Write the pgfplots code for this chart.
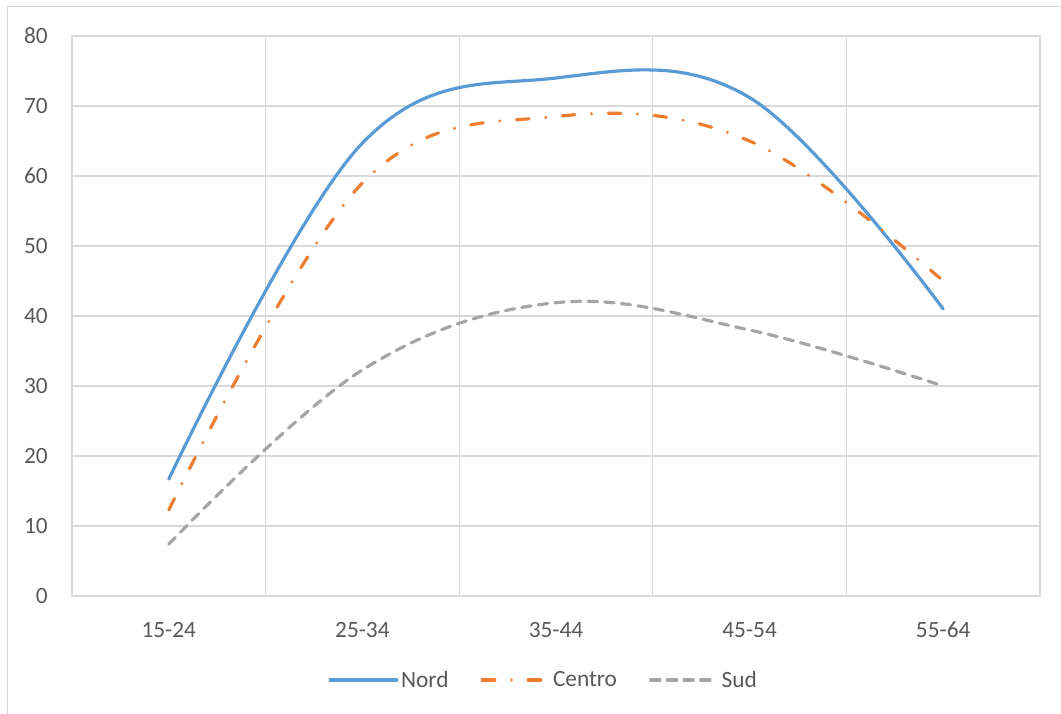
\documentclass[border=0pt]{standalone}
\usepackage{pgfplots}
\pgfplotsset{compat=1.18}
\usepackage{fontspec}
\setmainfont{Carlito}
\definecolor{nord}{HTML}{5B9BD5}
\definecolor{centro}{HTML}{ED7D31}
\definecolor{sud}{HTML}{A5A5A5}
\definecolor{gridc}{HTML}{D9D9D9}
\definecolor{txt}{HTML}{595959}
\begin{document}
\begin{tikzpicture}
\useasboundingbox (-54pt,-88.5pt) rectangle (741.75pt,447pt);
\draw[gridc, line width=0.75pt] (-48.4pt,-88.5pt) -- (-48.4pt,441.75pt) -- (741.75pt,441.75pt);
\begin{axis}[
  at={(0,0)}, anchor=south west,
  scale only axis, width=726pt, height=420pt,
  xmin=0.5, xmax=5.5, ymin=0, ymax=80,
  xtick={1,2,3,4,5},
  xticklabels={15-24,25-34,35-44,45-54,55-64},
  minor xtick={0.5,1.5,2.5,3.5,4.5,5.5},
  ytick={0,10,20,30,40,50,60,70,80},
  major tick length=0pt, minor tick length=0pt,
  xminorgrids=true, ymajorgrids=true, xmajorgrids=false,
  grid style={gridc, line width=0.9pt},
  minor grid style={gridc, line width=0.9pt},
  axis line style={gridc, line width=0.9pt},
  tick label style={font=\fontsize{17.5}{20}\selectfont, text=txt},
  /pgf/number format/assume math mode=true,
  yticklabel style={anchor=east, inner sep=0pt, xshift=-18pt},
  xticklabel style={anchor=base, inner sep=0pt, yshift=-30.75pt},
  legend style={at={(0.4876,-0.15)}, anchor=center, draw=none, fill=none,
    legend columns=-1, font=\fontsize{17.5}{20}\selectfont, text=txt,
    /tikz/every even column/.append style={column sep=22pt}},
  legend cell align=left,
  legend image code/.code={\draw[#1] (0pt,0pt) -- (50pt,0pt);},
]
\addplot[nord, line width=2.4pt, smooth, tension=0.62, line cap=round] coordinates {
 (1,16.7) (2,64.7) (3,74.0) (4,71.2) (5,41.0)};
\addlegendentry{Nord}
\addplot[centro, line width=2.4pt, smooth, tension=0.62, line cap=round, dash pattern=on 9.5pt off 12.5pt on 0pt off 12.5pt] coordinates {
 (1,12.3) (2,59.0) (3,68.5) (4,65.0) (5,45.0)};
\addlegendentry{Centro}
\addplot[sud, line width=2.4pt, smooth, tension=0.62, line cap=round, dash pattern=on 7pt off 5.5pt] coordinates {
 (1,7.4) (2,32.3) (3,41.9) (4,38.0) (5,30.0)};
\addlegendentry{Sud}
\end{axis}
\end{tikzpicture}
\end{document}
